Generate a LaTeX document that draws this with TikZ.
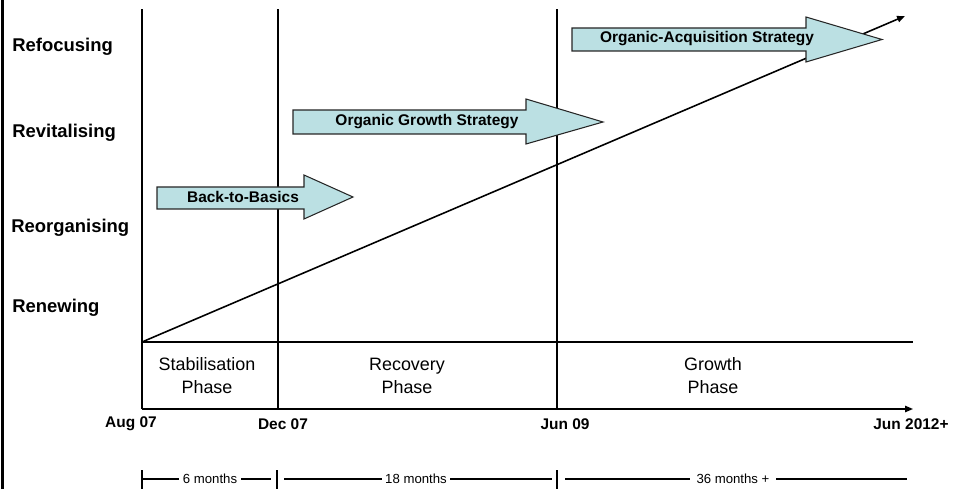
\documentclass[tikz,border=0pt]{standalone}
\usepackage{fontspec}
\setmainfont{Liberation Sans}
\usetikzlibrary{arrows.meta,positioning}
\definecolor{stratfill}{RGB}{187,224,227}

\begin{document}
\begin{tikzpicture}[
	stage/.style={font=\fontsize{10.5}{12}\selectfont\bfseries, anchor=west, inner sep=0},
	datelbl/.style={font=\fontsize{8.8}{10}\selectfont\bfseries, inner sep=0},
	phase/.style={font=\fontsize{10.2}{13}\selectfont, align=center, inner sep=0},
	period/.style={font=\fontsize{7.5}{9}\selectfont, fill=white, inner xsep=2pt, inner ysep=0},
	stratlbl/.style={font=\fontsize{8.8}{10}\selectfont\bfseries, inner sep=0},
	strategy/.style={draw=black!85, fill=stratfill, line width=0.6pt},
	frameline/.style={line width=1.2pt},
	axisline/.style={line width=0.9pt, -{Triangle[length=4.5pt,width=3.6pt]}}
]
	\useasboundingbox (0,0) rectangle (19.08,9.78);

	% Time points on the axis
	\coordinate (top) at (0,9.6);
	\coordinate (aug) at (2.84,1.6);
	\coordinate (dec) at (5.56,1.6);
	\coordinate (jun) at (11.14,1.6);
	\coordinate (end) at (18.26,1.6);
	\coordinate (base) at (2.84,2.94);
	\coordinate (peak) at (18.1,9.46);

	% Left border
	\draw[frameline] (0.05,0) -- (0.05,9.78);

	% Stage labels
	\node[stage] (refocus) at (0.24,8.84) {Refocusing};
	\node[stage] (revital) at (0.24,7.12) {Revitalising};
	\node[stage] (reorg) at (0.22,5.22) {Reorganising};
	\node[stage] (renew) at (0.24,3.62) {Renewing};

	% Phase boundaries
	\draw[frameline] (aug) -- (aug |- top);
	\draw[frameline] (dec) -- (dec |- top);
	\draw[frameline] (jun) -- (jun |- top);
	\draw[frameline] (base) -- (base -| end);
	\draw[axisline] (aug) -- (end);

	% Progress line
	\draw[axisline] (base) -- (peak);

	% Strategy arrows
	\draw[strategy] (3.14,6.04) -- (6.08,6.04) -- (6.08,6.28) -- (7.06,5.84) -- (6.08,5.4) -- (6.08,5.6) -- (3.14,5.6) -- cycle;
	\node[stratlbl] (basics) at (4.86,5.84) {Back-to-Basics};

	\draw[strategy] (5.86,7.58) -- (10.52,7.58) -- (10.52,7.8) -- (12.06,7.34) -- (10.52,6.9) -- (10.52,7.1) -- (5.86,7.1) -- cycle;
	\node[stratlbl] (organic) at (8.54,7.34) {Organic Growth Strategy};

	\draw[strategy] (11.44,9.22) -- (16.12,9.22) -- (16.12,9.44) -- (17.64,8.99) -- (16.12,8.54) -- (16.12,8.76) -- (11.44,8.76) -- cycle;
	\node[stratlbl] (acquis) at (14.14,9.0) {Organic-Acquisition Strategy};

	% Phase names
	\node[phase] (stab) at (4.14,2.26) {Stabilisation\\Phase};
	\node[phase] (recov) at (8.14,2.26) {Recovery\\Phase};
	\node[phase] (growth) at (14.26,2.26) {Growth\\Phase};

	% Dates below the axis
	\node[datelbl] (d1) at (2.62,1.3) {Aug 07};
	\node[datelbl] (d2) at (5.66,1.3) {Dec 07};
	\node[datelbl] (d3) at (11.3,1.3) {Jun 09};
	\node[datelbl] (d4) at (18.22,1.3) {Jun 2012+};

	% Durations
	\draw[frameline] (2.84,0.38) -- (2.84,0);
	\draw[frameline] (5.54,0.38) -- (5.54,0);
	\draw[frameline] (11.14,0.38) -- (11.14,0);
	\draw[line width=0.9pt] (2.84,0.2) -- (5.42,0.2);
	\draw[line width=0.9pt] (5.68,0.2) -- (11.04,0.2);
	\draw[line width=0.9pt] (11.3,0.2) -- (18.14,0.2);
	\node[period] (p1) at (4.2,0.2) {6 months};
	\node[period] (p2) at (8.32,0.2) {18 months};
	\node[period, inner xsep=4pt] (p3) at (14.66,0.2) {36 months +};
\end{tikzpicture}
\end{document}
